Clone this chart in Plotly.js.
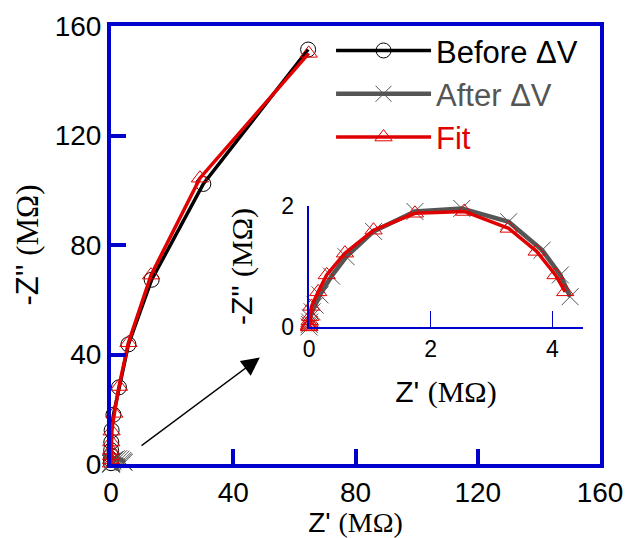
<!DOCTYPE html>
<html>
<head>
<meta charset="utf-8">
<script src="https://cdn.plot.ly/plotly-3.0.1.min.js"></script>
<style>html,body{margin:0;padding:0;background:#fff;}#chart{width:628px;height:538px;}</style>
</head>
<body>
<div id="chart"></div>
<script>
// Before ΔV (main plot), Z' and -Z'' in MΩ
const beforeZr = [0.0, 0.0, 0.02, 0.05, 0.1, 0.2, 0.8, 2.6, 5.7, 13.3, 30.2, 64.5];
const beforeZi = [0.3, 1.5, 3.0, 5.0, 8.0, 12.3, 18.0, 28.0, 43.7, 67.3, 102.3, 151.4];
// Fit of Before ΔV
const fitBeforeZr = [0.0, 0.0, 0.02, 0.05, 0.1, 0.2, 1.1, 2.6, 5.7, 13.1, 29.1, 64.7];
const fitBeforeZi = [0.3, 1.5, 3.0, 5.0, 8.0, 12.0, 18.5, 28.3, 44.3, 69.0, 104.4, 150.0];
// After ΔV
const afterZr = [0.0, 0.005, 0.01, 0.02, 0.05, 0.10, 0.18, 0.37, 0.61, 1.06, 1.74, 2.51, 3.28, 3.83, 4.13, 4.29];
const afterZi = [0.0, 0.04, 0.08, 0.15, 0.25, 0.36, 0.53, 0.84, 1.16, 1.58, 1.91, 1.96, 1.74, 1.27, 0.86, 0.50];
// Fit of After ΔV
const fitAfterZr = [0.0, 0.0, 0.002, 0.005, 0.01, 0.02, 0.04, 0.15, 0.29, 0.59, 1.06, 1.74, 2.55, 3.28, 3.74, 4.05, 4.21];
const fitAfterZi = [0.0, 0.01, 0.03, 0.06, 0.10, 0.17, 0.34, 0.58, 0.86, 1.22, 1.60, 1.88, 1.91, 1.63, 1.25, 0.86, 0.58];

const mainTicks = [0, 40, 80, 120, 160];
const insetXTicks = [0, 2, 4];
const insetYTicks = [0, 2];

const BLUE = '#0000cc', BLACK = '#000000', GRAY = '#555555', RED = '#e00000';
const SANS = 'Arial, "Liberation Sans", sans-serif';
const SERIFSPAN = '<span style="font-family:\'Liberation Serif\', \'Times New Roman\', serif">(MΩ)</span>';

const mk = (sym, color, size) => ({symbol: sym, size: size, color: color, line: {color: color, width: 1}});

const traces = [
  {x: beforeZr, y: beforeZi, xaxis: 'x', yaxis: 'y', mode: 'lines+markers', name: 'Before ΔV',
   line: {color: BLACK, width: 3.5}, marker: mk('circle-open', BLACK, 15), cliponaxis: false, legendgroup: 'b'},
  {x: afterZr, y: afterZi, xaxis: 'x2', yaxis: 'y2', mode: 'lines+markers', name: '<span style="color:#555555">After ΔV</span>',
   line: {color: GRAY, width: 4.5}, marker: mk('x-thin-open', GRAY, 17), cliponaxis: false, legendgroup: 'a'},
  {x: afterZr, y: afterZi, xaxis: 'x', yaxis: 'y', mode: 'lines+markers', name: 'After ΔV', showlegend: false,
   line: {color: GRAY, width: 4.5}, marker: mk('x-thin-open', GRAY, 17), cliponaxis: false, legendgroup: 'a'},
  {x: fitBeforeZr, y: fitBeforeZi, xaxis: 'x', yaxis: 'y', mode: 'lines+markers', name: '<span style="color:#e00000">Fit</span>',
   line: {color: RED, width: 3.5}, marker: mk('triangle-up-open', RED, 15), cliponaxis: false, legendgroup: 'f'},
  {x: fitAfterZr, y: fitAfterZi, xaxis: 'x2', yaxis: 'y2', mode: 'lines+markers', name: 'Fit', showlegend: false,
   line: {color: RED, width: 3.5}, marker: mk('triangle-up-open', RED, 15), cliponaxis: false, legendgroup: 'f'}
];

const layout = {
  width: 628, height: 538,
  margin: {l: 111, r: 28, t: 26, b: 74},
  paper_bgcolor: '#ffffff', plot_bgcolor: 'rgba(0,0,0,0)',
  font: {family: SANS, color: '#000'},
  showlegend: true,
  legend: {x: 0.45, y: 1.005, xanchor: 'left', yanchor: 'top', bgcolor: 'rgba(0,0,0,0)',
           font: {family: SANS, size: 31, color: '#000'}, itemwidth: 95, tracegroupgap: 0},
  xaxis: {domain: [0, 1], range: [0, 160], tickvals: mainTicks, ticktext: mainTicks.map(String),
          ticks: 'inside', ticklen: 15, tickwidth: 4, tickcolor: BLUE,
          showline: true, linecolor: BLUE, linewidth: 4, mirror: true, showgrid: false, zeroline: false,
          tickfont: {family: SANS, size: 28},
          title: {text: 'Z\' ' + SERIFSPAN, font: {family: SANS, size: 28}, standoff: 14}},
  yaxis: {domain: [0, 1], range: [0, 160], tickvals: mainTicks, ticktext: mainTicks.map(String),
          ticks: 'inside', ticklen: 15, tickwidth: 4, tickcolor: BLUE,
          showline: true, linecolor: BLUE, linewidth: 4, mirror: true, showgrid: false, zeroline: false,
          tickfont: {family: SANS, size: 28},
          title: {text: '-Z\'\' ' + SERIFSPAN, font: {family: SANS, size: 31}, standoff: 8}},
  xaxis2: {domain: [0.405, 0.965], anchor: 'y2', range: [0, 4.5], tickvals: insetXTicks, ticktext: insetXTicks.map(String),
           ticks: 'inside', ticklen: 16, tickwidth: 1.2, tickcolor: BLUE,
           showline: true, linecolor: BLUE, linewidth: 2.5, mirror: false, showgrid: false, zeroline: false,
           tickfont: {family: SANS, size: 23},
           title: {text: 'Z\' ' + SERIFSPAN, font: {family: SANS, size: 30}, standoff: 20}},
  yaxis2: {domain: [0.313, 0.589], anchor: 'x2', range: [0, 2], tickvals: insetYTicks, ticktext: insetYTicks.map(String),
           ticks: 'inside', ticklen: 16, tickwidth: 1.2, tickcolor: BLUE, ticklabelstandoff: 8,
           showline: true, linecolor: BLUE, linewidth: 2.5, mirror: false, showgrid: false, zeroline: false,
           tickfont: {family: SANS, size: 23},
           title: {text: '-Z\'\' ' + SERIFSPAN, font: {family: SANS, size: 30}, standoff: 20}},
  annotations: [
    {x: 48.7, y: 38.9, ax: 9.5, ay: 6.3, xref: 'x', yref: 'y', axref: 'x', ayref: 'y',
     showarrow: true, arrowhead: 2, arrowsize: 2.8, arrowwidth: 1.3, arrowcolor: '#000', text: ''}
  ]
};

Plotly.newPlot('chart', traces, layout, {staticPlot: true, displayModeBar: false});
</script>
</body>
</html>
